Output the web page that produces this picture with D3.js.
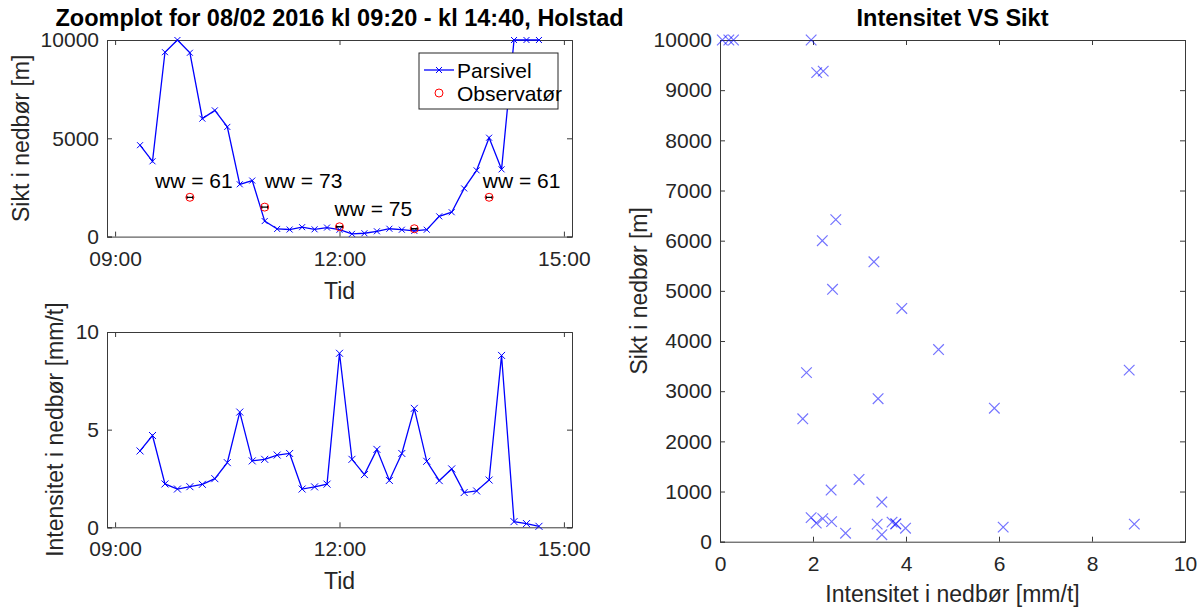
<!DOCTYPE html>
<html><head><meta charset="utf-8">
<script src="https://cdn.jsdelivr.net/npm/d3@7"></script>
<style>
body{margin:0;background:#fff}
text{font-family:"Liberation Sans",Arial,Helvetica,sans-serif;fill:#262626}
</style>
</head><body>
<svg id="c" width="1204" height="608"></svg>
<script>
// ---------------- data ----------------
const times = ["09:20","09:30","09:40","09:50","10:00","10:10","10:20","10:30","10:40","10:50",
               "11:00","11:10","11:20","11:30","11:40","11:50","12:00","12:10","12:20","12:30",
               "12:40","12:50","13:00","13:10","13:20","13:30","13:40","13:50","14:00","14:10",
               "14:20","14:30","14:40"];
const visibility = [4650,3830,9380,10000,9350,6000,6420,5580,2660,2850,
                    790,390,360,480,370,460,350,140,170,270,
                    400,350,290,350,1030,1240,2450,3370,5030,3420,
                    10000,10000,10000];
const intensity = [3.91,4.70,2.22,1.96,2.08,2.20,2.49,3.31,5.90,3.40,
                   3.48,3.70,3.78,1.96,2.07,2.21,8.91,3.48,2.70,3.99,
                   2.40,3.78,6.09,3.38,2.39,2.99,1.78,1.86,2.42,8.80,
                   0.29,0.19,0.05];
const obsTimes = ["10:00","11:00","12:00","13:00","14:00"];
const obsVisibility = [2000,1500,500,400,2000];
const wwLabels = ["ww = 61","ww = 73","ww = 75","ww = 61"];
const wwLabelTimes = ["09:32","11:00","11:56","13:55"];
const wwLabelVis = [2880,2880,1450,2880];
const timeLimits = ["08:53:30","15:06:30"];
const timeTicks = ["09:00","12:00","15:00"];
const visTicksLeft = [0,5000,10000];
const intTicksLeft = [0,5,10];
const intTicksRight = [0,2,4,6,8,10];
const visTicksRight = [0,1000,2000,3000,4000,5000,6000,7000,8000,9000,10000];
const legendLabels = ["Parsivel","Observatør"];
const titles = ["Zoomplot for 08/02 2016 kl 09:20 - kl 14:40, Holstad","Intensitet VS Sikt"];

// ---------------- setup ----------------
const svg = d3.select("#c");
const FS = 21, LFS = 23, TFS = 23.5;
const pHM = d3.timeParse("%H:%M"), pHMS = d3.timeParse("%H:%M:%S");
const T = times.map(pHM);
const axisColor = "#3a3a3a";

function frame(g, w, h, xs, ys, xt, yt, xfmt, yfmt, xpad){
  const tl = 5;
  const ax = g.append("g").attr("transform",`translate(0,${h})`)
    .call(d3.axisBottom(xs).tickValues(xt).tickSize(-tl).tickPadding(xpad).tickFormat(xfmt));
  const axT = g.append("g").call(d3.axisTop(xs).tickValues(xt).tickSize(-tl).tickFormat(""));
  const ay = g.append("g").call(d3.axisLeft(ys).tickValues(yt).tickSize(-tl).tickPadding(8).tickFormat(yfmt));
  const ayR = g.append("g").attr("transform",`translate(${w},0)`)
    .call(d3.axisRight(ys).tickValues(yt).tickSize(-tl).tickFormat(""));
  [ax,axT,ay,ayR].forEach(a=>{
    a.selectAll("path").attr("stroke",axisColor).attr("stroke-width",1);
    a.selectAll("line").attr("stroke",axisColor).attr("stroke-width",1);
    a.selectAll("text").attr("font-size",FS).attr("font-family","Liberation Sans, Arial, sans-serif").attr("fill","#262626");
  });
}

function xMarker(sel, s){
  sel.attr("d",`M${-s},${-s}L${s},${s}M${-s},${s}L${s},${-s}`);
}

// ---------------- top-left: visibility vs time ----------------
{
  const L=107,Tp=40,W=465,H=196.6;
  const g = svg.append("g").attr("transform",`translate(${L},${Tp})`);
  const xs = d3.scaleTime().domain(timeLimits.map(pHMS)).range([0,W]);
  const ys = d3.scaleLinear().domain([0,10000]).range([H,0]);
  frame(g,W,H,xs,ys,timeTicks.map(pHM),visTicksLeft,d3.timeFormat("%H:%M"),d=>d,14);
  g.append("path").datum(visibility)
    .attr("fill","none").attr("stroke","#0000ff").attr("stroke-width",1.3)
    .attr("d",d3.line().x((d,i)=>xs(T[i])).y(d=>ys(d)));
  g.selectAll(".m").data(visibility).enter().append("path")
    .attr("transform",(d,i)=>`translate(${xs(T[i])},${ys(d)})`)
    .call(xMarker,3).attr("stroke","#0000ff").attr("stroke-width",1).attr("fill","none");
  const ob = g.selectAll(".o").data(obsVisibility).enter().append("g")
    .attr("transform",(d,i)=>`translate(${xs(pHM(obsTimes[i]))},${ys(d)})`);
  ob.append("path").attr("d","M-3,-1.6V1.6M-3,0H3M3,-1.6V1.6").attr("stroke","#000").attr("stroke-width",1.3).attr("fill","none");
  ob.append("circle").attr("r",4).attr("fill","none").attr("stroke","#ff0000").attr("stroke-width",1);
  g.selectAll(".ww").data(wwLabels).enter().append("text")
    .attr("x",(d,i)=>xs(pHM(wwLabelTimes[i]))).attr("y",(d,i)=>ys(wwLabelVis[i]))
    .attr("dy","0.36em").attr("font-size",FS).style("fill","#000").text(d=>d);
  // legend
  const lg = g.append("g").attr("transform",`translate(${419-L},${53-Tp})`);
  lg.append("rect").attr("width",139).attr("height",56).attr("fill","#fff").attr("stroke","#262626").attr("stroke-width",1);
  lg.append("line").attr("x1",5).attr("x2",35).attr("y1",17).attr("y2",17).attr("stroke","#0000ff").attr("stroke-width",1.3);
  lg.append("path").attr("transform","translate(20,17)").call(xMarker,3).attr("stroke","#0000ff").attr("fill","none");
  lg.append("circle").attr("cx",20).attr("cy",40).attr("r",4).attr("fill","none").attr("stroke","#ff0000");
  lg.selectAll(".lt").data(legendLabels).enter().append("text")
    .attr("x",38).attr("y",(d,i)=>17+i*23).attr("dy","0.36em").attr("font-size",FS).style("fill","#000").text(d=>d);
  // labels
  svg.append("text").attr("x",L+W/2).attr("y",26).attr("text-anchor","middle")
    .attr("font-size",TFS).attr("font-weight","bold").style("fill","#000").text(titles[0]);
  svg.append("text").attr("x",L+W/2).attr("y",Tp+H+62).attr("text-anchor","middle").attr("font-size",LFS).text("Tid");
  svg.append("text").attr("transform",`translate(22,${Tp+H/2}) rotate(-90)`).attr("dy","0.3em")
    .attr("text-anchor","middle").attr("font-size",LFS).text("Sikt i nedbør [m]");
}

// ---------------- bottom-left: intensity vs time ----------------
{
  const L=107,Tp=332,W=465,H=195.3;
  const g = svg.append("g").attr("transform",`translate(${L},${Tp})`);
  const xs = d3.scaleTime().domain(timeLimits.map(pHMS)).range([0,W]);
  const ys = d3.scaleLinear().domain([0,10]).range([H,0]);
  frame(g,W,H,xs,ys,timeTicks.map(pHM),intTicksLeft,d3.timeFormat("%H:%M"),d=>d,14);
  g.append("path").datum(intensity)
    .attr("fill","none").attr("stroke","#0000ff").attr("stroke-width",1.3)
    .attr("d",d3.line().x((d,i)=>xs(T[i])).y(d=>ys(d)));
  g.selectAll(".m").data(intensity).enter().append("path")
    .attr("transform",(d,i)=>`translate(${xs(T[i])},${ys(d)})`)
    .call(xMarker,3.5).attr("stroke","#0000ff").attr("stroke-width",1).attr("fill","none");
  svg.append("text").attr("x",L+W/2).attr("y",Tp+H+62).attr("text-anchor","middle").attr("font-size",LFS).text("Tid");
  svg.append("text").attr("transform",`translate(56,${Tp+H/2}) rotate(-90)`).attr("dy","0.3em")
    .attr("text-anchor","middle").attr("font-size",LFS).text("Intensitet i nedbør [mm/t]");
}

// ---------------- right: intensity vs visibility ----------------
{
  const L=720,Tp=40,W=465,H=501.7;
  const g = svg.append("g").attr("transform",`translate(${L},${Tp})`);
  const xs = d3.scaleLinear().domain([0,10]).range([0,W]);
  const ys = d3.scaleLinear().domain([0,10000]).range([H,0]);
  frame(g,W,H,xs,ys,intTicksRight,visTicksRight,d=>d,d=>d,14);
  g.selectAll(".s").data(intensity).enter().append("path")
    .attr("transform",(d,i)=>`translate(${xs(d)},${ys(visibility[i])})`)
    .call(xMarker,5.3).attr("stroke","#0000ff").attr("stroke-opacity",0.55).attr("stroke-width",1.2).attr("fill","none");
  svg.append("text").attr("x",L+W/2).attr("y",26).attr("text-anchor","middle")
    .attr("font-size",TFS).attr("font-weight","bold").style("fill","#000").text(titles[1]);
  svg.append("text").attr("x",L+W/2).attr("y",Tp+H+60).attr("text-anchor","middle").attr("font-size",LFS).text("Intensitet i nedbør [mm/t]");
  svg.append("text").attr("transform",`translate(640,${Tp+H/2}) rotate(-90)`).attr("dy","0.3em")
    .attr("text-anchor","middle").attr("font-size",LFS).text("Sikt i nedbør [m]");
}
</script>
</body></html>
